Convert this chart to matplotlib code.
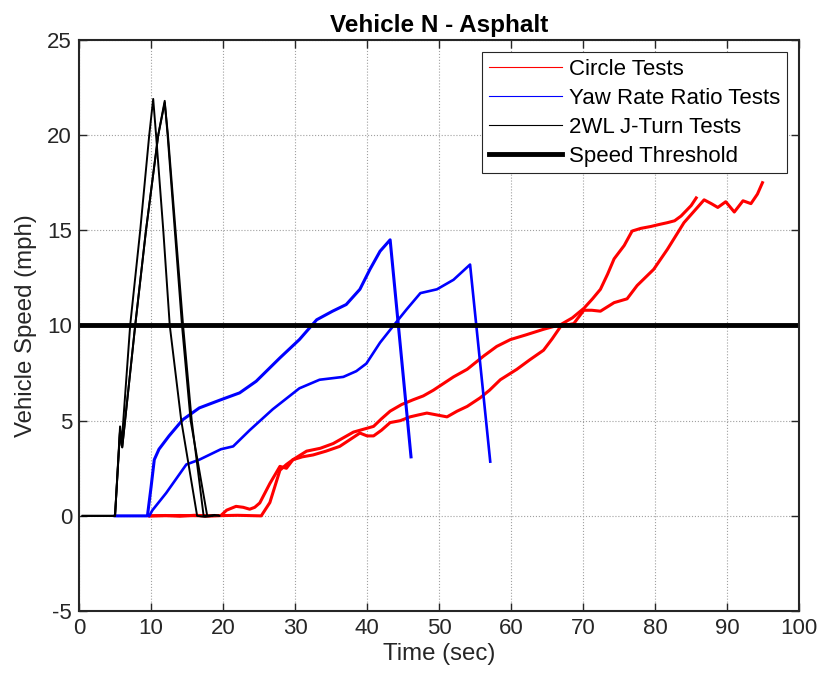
import matplotlib
matplotlib.use("Agg")
import matplotlib.pyplot as plt
from matplotlib.lines import Line2D

plt.rcParams['font.family'] = ['Liberation Sans', 'DejaVu Sans']
plt.rcParams['axes.unicode_minus'] = False

title = "Vehicle N - Asphalt"
xlabel = "Time (sec)"
ylabel = "Vehicle Speed (mph)"
legend_labels = ["Circle Tests", "Yaw Rate Ratio Tests", "2WL J-Turn Tests", "Speed Threshold"]
speed_threshold = 10
xticks = [0, 10, 20, 30, 40, 50, 60, 70, 80, 90, 100]
yticks = [-5, 0, 5, 10, 15, 20, 25]

# Circle tests (red)
circle1_t = [9.8, 12, 14, 16, 18, 19.7, 20.5, 21.8, 22.8, 23.7, 24.4, 25.1, 26.5, 27.9, 28.8, 29.7,
             31.6, 33.5, 35.3, 36.7, 38.1, 39.5, 40.9, 42.0, 43.2, 44.8, 46.4, 47.8, 49.2, 50.6, 52.0,
             53.9, 56.2, 58.0, 59.9, 62.0, 64.5, 66.9, 68.5, 70.1, 71.3, 72.4, 73.4, 74.3, 75.7,
             76.8, 78.0, 79.4, 80.5, 81.7, 82.7, 83.6, 85.0, 85.7]
circle1_v = [0.0, 0.02, -0.02, 0.03, 0.0, 0.02, 0.3, 0.5, 0.45, 0.35, 0.45, 0.68, 1.7, 2.6, 2.5, 2.95,
             3.4, 3.55, 3.8, 4.1, 4.4, 4.55, 4.7, 5.1, 5.5, 5.85, 6.1, 6.3, 6.6, 6.95, 7.3,
             7.7, 8.4, 8.9, 9.26, 9.5, 9.8, 10.05, 10.4, 10.9, 11.4, 11.9, 12.7, 13.5, 14.2,
             14.96, 15.1, 15.2, 15.3, 15.4, 15.5, 15.75, 16.3, 16.7]
circle2_t = [9.8, 14, 18, 22, 25.3, 26.5, 27.9, 28.8, 29.7, 31.0, 32.5, 34.3, 36.2, 37.6, 39.0, 40.0,
             40.9, 42.0, 43.2, 44.6, 45.96, 47.1, 48.3, 49.7, 51.1, 52.5, 53.9, 55.7, 57.0, 58.5,
             60.8, 62.6, 64.5, 65.7, 66.9, 68.7, 70.1, 71.2, 72.4, 74.3, 76.1, 77.5, 79.8, 81.7, 84.0,
             85.4, 86.8, 87.8, 88.7, 89.8, 90.99, 92.2, 93.3, 94.2, 94.9]
circle2_v = [0.0, 0.02, 0.0, 0.03, 0.0, 0.7, 2.4, 2.7, 2.95, 3.1, 3.2, 3.4, 3.65, 4.0, 4.35, 4.2,
             4.2, 4.5, 4.9, 5.0, 5.2, 5.3, 5.4, 5.3, 5.2, 5.5, 5.75, 6.2, 6.6, 7.15,
             7.7, 8.2, 8.7, 9.3, 9.96, 10.1, 10.8, 10.8, 10.75, 11.2, 11.4, 12.1, 12.95, 14.0, 15.4,
             16.0, 16.6, 16.4, 16.2, 16.5, 15.96, 16.55, 16.4, 16.9, 17.5]

# Yaw rate ratio tests (blue)
yaw1_t = [5.0, 9.5, 10.0, 10.45, 11.1, 12.5, 14.4, 16.7, 19.7, 22.3, 24.6, 27.9, 30.6, 33.0, 35.2,
          37.1, 39.0, 40.4, 41.8, 43.2, 46.1]
yaw1_v = [0.0, 0.0, 1.5, 2.95, 3.5, 4.2, 5.05, 5.67, 6.1, 6.46, 7.07, 8.3, 9.26, 10.3, 10.75,
          11.1, 11.9, 12.95, 13.9, 14.5, 3.1]
yaw2_t = [9.75, 10.2, 12.1, 14.9, 16.7, 19.7, 21.4, 23.7, 26.9, 30.6, 33.4, 36.7, 38.5, 39.9, 41.8,
          43.6, 45.5, 47.4, 49.7, 52.0, 54.3, 57.1]
yaw2_v = [0.0, 0.3, 1.2, 2.7, 2.95, 3.5, 3.65, 4.5, 5.6, 6.7, 7.15, 7.3, 7.6, 8.0, 9.1,
          9.96, 10.85, 11.7, 11.9, 12.4, 13.2, 2.85]

# 2WL J-Turn tests (black)
jturn1_t = [0.5, 5.0, 5.7, 5.9, 7.1, 8.5, 9.75, 10.3, 10.7, 11.7, 12.6, 14.2, 16.4, 17.5, 18.5]
jturn1_v = [0.0, 0.0, 4.7, 3.7, 10.0, 15.0, 20.0, 21.9, 20.0, 15.0, 10.0, 5.0, 0.0, -0.05, 0.0]
jturn2_t = [0.5, 5.0, 5.7, 6.0, 7.8, 9.3, 11.0, 11.9, 12.3, 13.3, 14.3, 15.5, 17.8, 18.8, 19.5]
jturn2_v = [0.0, 0.0, 4.5, 3.6, 10.0, 15.0, 20.0, 21.8, 20.0, 15.0, 10.0, 5.0, 0.0, 0.05, 0.0]
jturn3_t = [0.5, 5.0, 5.7, 6.0, 7.8, 9.3, 11.0, 11.9, 12.35, 13.4, 14.45, 15.65, 17.3, 18.3, 19.3]
jturn3_v = [0.0, 0.0, 4.5, 3.6, 10.0, 15.0, 20.0, 21.7, 20.0, 15.0, 10.0, 5.0, 0.0, 0.0, 0.02]

fig = plt.figure(figsize=(8.18, 6.82), dpi=100)
ax = fig.add_axes([0.0966, 0.104, 0.8804, 0.8375])

red = (1.0, 0.0, 0.0)
blue = (0.0, 0.0, 1.0)

ax.plot(circle1_t, circle1_v, color=red, lw=2.2)
ax.plot(circle2_t, circle2_v, color=red, lw=2.2)
ax.plot(yaw1_t, yaw1_v, color=blue, lw=2.2)
ax.plot(yaw2_t, yaw2_v, color=blue, lw=1.9)
ax.plot(jturn1_t, jturn1_v, color='black', lw=1.4)
ax.plot(jturn2_t, jturn2_v, color='black', lw=1.4)
ax.plot(jturn3_t, jturn3_v, color='black', lw=1.4)
ax.axhline(speed_threshold, color='black', lw=3.5)

handles = [Line2D([], [], color=red, lw=0.8),
           Line2D([], [], color=blue, lw=0.8),
           Line2D([], [], color='black', lw=0.8),
           Line2D([], [], color='black', lw=3.5)]
leg = ax.legend(handles, legend_labels, loc='upper right', fontsize=16, frameon=True,
                fancybox=False, edgecolor='#262626', framealpha=1, handlelength=3.3,
                borderaxespad=0.55, labelspacing=0.36, handletextpad=0.3, borderpad=0.3)
leg.get_frame().set_linewidth(0.8)
for t in leg.get_texts():
    t.set_color('#000000')

ax.set_xlim(0, 100)
ax.set_ylim(-5, 25)
ax.set_xticks(xticks)
ax.set_yticks(yticks)
ax.tick_params(direction='in', top=True, right=True, length=6, width=1.0,
               labelsize=16, colors='#262626', labelcolor='#262626', pad=5)
ax.grid(True, linestyle=':', color='#a0a0a0', linewidth=0.8)
for s in ax.spines.values():
    s.set_linewidth(1.5)
    s.set_color('#262626')

ax.set_title(title, fontsize=17.5, fontweight='bold', pad=6)
ax.set_xlabel(xlabel, fontsize=17.3, color='#262626', labelpad=3)
ax.set_ylabel(ylabel, fontsize=17.3, color='#262626', labelpad=7)

fig.savefig("out.png", dpi=100)
